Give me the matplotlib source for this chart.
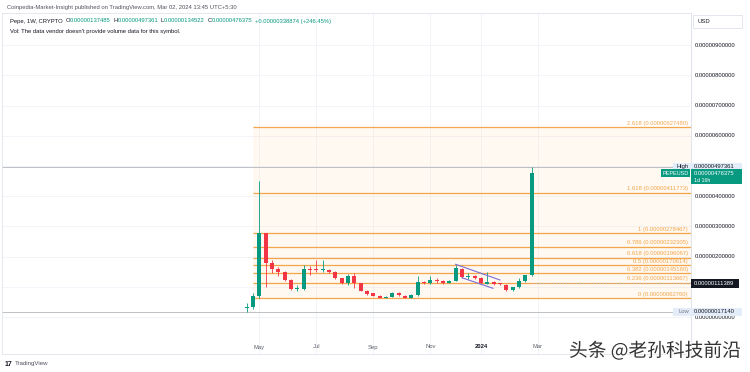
import matplotlib
matplotlib.use('Agg')
import matplotlib.pyplot as plt
import matplotlib.transforms as mtransforms
import matplotlib.patheffects as pe
from matplotlib.patches import Rectangle

plt.rcParams['font.family'] = ['Liberation Sans', 'DejaVu Sans']

W, H = 750, 372
UP = '#089981'
DOWN = '#f23645'
FIB = '#f5a64a'
TXT = '#131722'
GREY = '#787b86'
LINE = '#b2b5be'

# PEPEUSD weekly candles (Apr 17 2023 .. Feb 26 2024), prices in 1e-6 USD
opens = [0.31, 0.33, 0.69, 2.78467, 1.78, 1.60, 1.50, 1.22, 0.93, 0.92,
         1.60, 1.58, 1.55, 1.55, 1.50, 1.28, 1.14, 1.37, 1.12, 0.87,
         0.78, 0.70, 0.63, 0.67, 0.80, 0.71, 0.64, 0.73, 1.15, 1.11,
         1.23, 1.19, 1.13, 1.20, 1.59, 1.34, 1.37, 1.30, 1.10, 1.17,
         1.12, 1.06, 0.89, 0.99, 1.19, 1.37485]
highs = [0.46, 0.79, 4.50, 2.79, 1.88, 1.67, 1.52, 1.25, 1.05, 1.72,
         1.68, 1.90, 1.88, 1.58, 1.52, 1.30, 1.42, 1.45, 1.14, 0.89,
         0.80, 0.72, 0.69, 0.82, 0.83, 0.73, 0.76, 1.35, 1.19, 1.37,
         1.30, 1.22, 1.23, 1.72, 1.62, 1.45, 1.40, 1.32, 1.50, 1.19,
         1.14, 1.08, 1.01, 1.28, 1.40, 4.97361]
lows = [0.1714, 0.25, 0.62, 1.00, 1.45, 1.36, 1.18, 0.90, 0.87, 0.90,
        1.40, 1.50, 1.50, 1.46, 1.25, 1.10, 1.05, 0.96, 0.85, 0.74,
        0.68, 0.6276, 0.63, 0.65, 0.70, 0.62, 0.62, 0.71, 1.08, 1.09,
        1.12, 1.09, 1.11, 1.18, 1.30, 1.25, 1.27, 1.10, 1.08, 1.07,
        1.05, 0.86, 0.86, 0.97, 1.16, 1.34522]
closes = [0.33, 0.69, 2.78467, 1.78, 1.58, 1.50, 1.22, 0.92, 0.95, 1.60,
          1.57, 1.56, 1.57, 1.50, 1.28, 1.14, 1.37, 1.12, 0.87, 0.76,
          0.70, 0.62, 0.66, 0.78, 0.72, 0.64, 0.73, 1.17, 1.11, 1.23,
          1.20, 1.12, 1.20, 1.61, 1.33, 1.36, 1.30, 1.12, 1.17, 1.10,
          1.08, 0.89, 0.99, 1.19, 1.37501, 4.76375]

month_labels = ['May', 'Jul', 'Sep', 'Nov', '2024', 'Mar']
month_bars = [2, 11, 20, 29, 37, 46]

fib_ratios = ['0', '0.236', '0.382', '0.5', '0.618', '0.786', '1', '1.618', '2.618']
fib_prices = [0.62760, 1.13667, 1.45160, 1.70614, 1.96067, 2.32305, 2.78467, 4.11773, 6.27480]

price_ticks = [0, 1, 2, 3, 4, 5, 6, 7, 8, 9]

# descending channel drawing (bar index, price)
chan_top_x = [33, 40]
chan_top_y = [1.745, 1.225]
chan_bot_x = [34, 38.9]
chan_bot_y = [1.30, 0.95]

high_price = 4.97361
low_price = 0.17140
cross_price = 1.11389


def fx(px):
    return px / W


def fy(py):
    return 1 - py / H


def fmt(p):
    return f'{p * 1e-6:.11f}'


fig = plt.figure(figsize=(W / 100, H / 100), dpi=100)
fig.patch.set_facecolor('white')

ax = fig.add_axes([fx(2), fy(354), fx(691) - fx(2), fy(13) - fy(354)])
ax.set_xlim(-38.66, 70.18)
ax.set_ylim(-1.225, 10.066)
ax.set_xticks([])
ax.set_yticks([])
for s in ax.spines.values():
    s.set_color('#e0e3eb')
    s.set_linewidth(0.6)

# grid
for p in price_ticks:
    ax.axhline(p, color='#f0f3fa', lw=0.6, zorder=0)
for b in month_bars:
    ax.axvline(b, color='#f0f3fa', lw=0.6, zorder=0)

# fib retracement
xr = ax.get_xlim()[1]
ax.fill_between([1, xr], fib_prices[0], fib_prices[-1], color='#ff9800', alpha=0.05, lw=0, zorder=1)
ax.hlines(fib_prices, 1, xr, color=FIB, lw=0.9, zorder=2)
blend = mtransforms.blended_transform_factory(fig.transFigure, ax.transData)
for r, p in zip(fib_ratios, fib_prices):
    ax.annotate(f'{r} ({fmt(p)})', xy=(fx(688), p), xycoords=blend, xytext=(0, 1.0),
                textcoords='offset points', ha='right', va='bottom', fontsize=4.2, color=FIB, zorder=3)

# high / low / crosshair lines
ax.axhline(high_price, color=LINE, lw=0.6, zorder=2)
ax.axhline(low_price, color=LINE, lw=0.6, zorder=2)
ax.hlines(cross_price, len(closes) - 1, xr, color=LINE, lw=0.6, linestyles=(0, (2, 2)), zorder=2)

# candles
for i, (o, h, l, c) in enumerate(zip(opens, highs, lows, closes)):
    col = UP if c >= o else DOWN
    ax.vlines(i, l, h, color=col, lw=0.6, zorder=4)
    ax.bar(i, max(abs(c - o), 0.03), bottom=min(o, c), width=0.62, color=col, lw=0, zorder=5)

# channel
ax.plot(chan_top_x, chan_top_y, color='#7b6fd6', lw=0.8, zorder=6)
ax.plot(chan_bot_x, chan_bot_y, color='#7b6fd6', lw=0.8, zorder=6)

# time axis labels
tblend = mtransforms.blended_transform_factory(ax.transData, fig.transFigure)
for lab, b in zip(month_labels, month_bars):
    ax.text(b, fy(347), lab, transform=tblend, ha='center', va='center', fontsize=4.2,
            color=TXT if lab == '2024' else '#5d606b', fontweight='bold' if lab == '2024' else 'normal')

# price scale (labels covered by the price tags are left out, as on the chart)
fig.add_artist(plt.Line2D([fx(691), fx(691)], [fy(13), fy(354)], color='#e0e3eb', lw=0.6))
tag_prices = [high_price, closes[-1], cross_price]
for p in price_ticks:
    if min(abs(p - t) for t in tag_prices) < 0.3:
        continue
    ax.text(fx(695), p, fmt(p), transform=blend, ha='left', va='center', fontsize=4.2, color=TXT,
            clip_on=False)

fig.add_artist(Rectangle((fx(693), fy(28)), fx(49), 13 / H, transform=fig.transFigure,
                         facecolor='white', edgecolor='#e0e3eb', lw=0.6))
fig.text(fx(698), fy(21.5), 'USD', fontsize=4.2, color=TXT, va='center')


def tag(p, text, fc, tc, x0=691, w=51, h=8.5):
    y = ax.transData.transform((0, p))[1]
    fig.add_artist(Rectangle((fx(x0), (y - h / 2) / H), fx(w), h / H, transform=fig.transFigure,
                             facecolor=fc, edgecolor='none', zorder=10))
    fig.text(fx(x0 + 3), y / H, text, fontsize=4.2, color=tc, va='center', zorder=11)
    return y


# High
y = tag(high_price, fmt(high_price), '#e3ecf9', TXT)
fig.add_artist(Rectangle((fx(673), (y - 4.25) / H), fx(18), 8.5 / H, transform=fig.transFigure,
                         facecolor='#e3ecf9', edgecolor='none', zorder=10))
fig.text(fx(689), y / H, 'High', fontsize=4.2, color=TXT, va='center', ha='right', zorder=11)

# last price
y = ax.transData.transform((0, closes[-1]))[1]
fig.add_artist(Rectangle((fx(691), (y - 11) / H), fx(51), 15 / H, transform=fig.transFigure,
                         facecolor=UP, edgecolor='none', zorder=10))
fig.text(fx(694), y / H, fmt(closes[-1]), fontsize=4.2, color='white', va='center', zorder=11)
fig.text(fx(694), (y - 7.5) / H, '1d 16h', fontsize=3.8, color='white', va='center', zorder=11)
fig.add_artist(Rectangle((fx(661), (y - 4) / H), fx(29), 8 / H, transform=fig.transFigure,
                         facecolor=UP, edgecolor='none', zorder=10))
fig.text(fx(675.5), y / H, 'PEPEUSD', fontsize=4.0, color='white', va='center', ha='center', zorder=11)

# crosshair price
tag(cross_price, fmt(cross_price), '#131722', 'white', w=48)

# Low
y = tag(low_price, fmt(low_price), '#e3ecf9', TXT)
fig.add_artist(Rectangle((fx(673), (y - 4.25) / H), fx(18), 8.5 / H, transform=fig.transFigure,
                         facecolor='#e3ecf9', edgecolor='none', zorder=10))
fig.text(fx(689), y / H, 'Low', fontsize=4.2, color=GREY, va='center', ha='right', zorder=11)

# header texts
fig.text(fx(7), fy(7), 'Coinpedia-Market-Insight published on TradingView.com, Mar 02, 2024 13:45 UTC+5:30',
         fontsize=4.2, color='#50535e', va='center')

renderer = fig.canvas.get_renderer()
chg = closes[-1] - closes[-2]
pieces = [('Pepe, 1W, CRYPTO', TXT, 3),
          ('O', TXT, 0), (fmt(opens[-1]), UP, 2.5),
          ('H', TXT, 0), (fmt(highs[-1]), UP, 2.5),
          ('L', TXT, 0), (fmt(lows[-1]), UP, 2.5),
          ('C', TXT, 0), (fmt(closes[-1]), UP, 2.5),
          (f'+{fmt(chg)} (+{chg / closes[-2] * 100:.2f}%)', UP, 0)]
xpos = 10
for s, c, gap in pieces:
    t = fig.text(fx(xpos), fy(21), s, fontsize=4.2, color=c, va='center')
    bb = t.get_window_extent(renderer)
    xpos = bb.x1 + gap
fig.text(fx(10), fy(31), "Vol: The data vendor doesn't provide volume data for this symbol.",
         fontsize=4.2, color=TXT, va='center')

# footer
fig.text(fx(5), fy(364), '17', fontsize=5, color=TXT, fontweight='bold', va='center')
fig.text(fx(15), fy(364), 'TradingView', fontsize=4.4, color='#50535e', va='center')

wm = fig.text(fx(741), fy(351), '头条 @老孙科技前沿', fontsize=13.5, color='#333333', ha='right', va='center',
              family=['Noto Sans CJK SC', 'DejaVu Sans'], zorder=20)
wm.set_path_effects([pe.withStroke(linewidth=1.5, foreground='white')])

fig.savefig('out.png', dpi=100, facecolor='white')
